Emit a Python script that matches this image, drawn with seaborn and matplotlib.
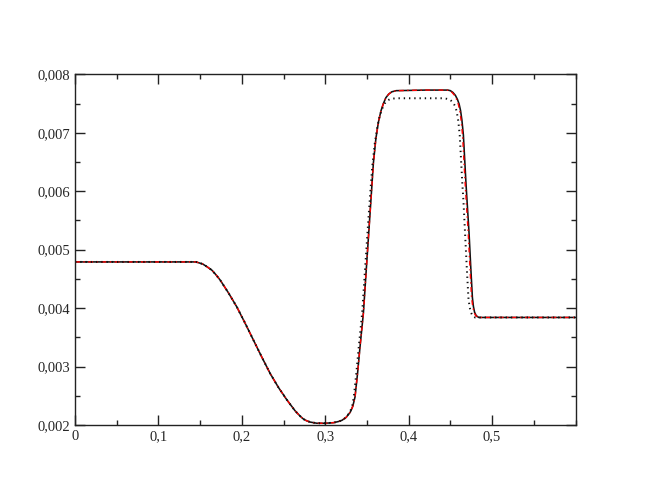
import numpy as np
import pandas as pd
import matplotlib
matplotlib.use("Agg")
import matplotlib.pyplot as plt
from matplotlib.ticker import MultipleLocator, FixedLocator
import seaborn as sns

# ---- data ----
x_solid = [0.0, 0.10, 0.14, 0.145, 0.153, 0.158, 0.164, 0.169, 0.174, 0.184,
           0.194, 0.204, 0.214, 0.224, 0.234, 0.244, 0.254, 0.264, 0.270, 0.274,
           0.278, 0.282, 0.29, 0.30, 0.31, 0.316, 0.32, 0.325, 0.330, 0.333,
           0.3357, 0.3387, 0.3417, 0.3457, 0.3497, 0.3537, 0.3577, 0.3607, 0.3637,
           0.3667, 0.3697, 0.3727, 0.376, 0.3797, 0.385, 0.42, 0.447, 0.450,
           0.453, 0.456, 0.4585, 0.4605, 0.4622, 0.4638, 0.4656, 0.4688, 0.4724,
           0.4744, 0.4764, 0.4776, 0.4790, 0.4810, 0.4840, 0.6]
y_solid = [0.00479, 0.00479, 0.00479, 0.00479, 0.004755, 0.00471, 0.00465, 0.00457,
           0.00448, 0.00426, 0.00402, 0.00374, 0.00345, 0.00316, 0.00288, 0.00264,
           0.00243, 0.00224, 0.00215, 0.00210, 0.00207, 0.00205, 0.00203, 0.00203,
           0.00204, 0.00206, 0.00208, 0.00213, 0.00222, 0.00232, 0.00248, 0.00288,
           0.00334, 0.00391, 0.00477, 0.00562, 0.00648, 0.00690, 0.00718, 0.00737,
           0.00750, 0.00760, 0.00766, 0.00770, 0.00772, 0.00773, 0.00773, 0.00772,
           0.00769, 0.00764, 0.00757, 0.00749, 0.00738, 0.00722, 0.00696, 0.00611,
           0.00528, 0.00471, 0.00418, 0.00403, 0.00393, 0.00387, 0.00384, 0.00384]

x_red = [0.0, 0.10, 0.14, 0.145, 0.153, 0.158, 0.164, 0.169, 0.174, 0.184,
         0.194, 0.204, 0.214, 0.224, 0.234, 0.244, 0.254, 0.264, 0.270, 0.274,
         0.278, 0.282, 0.29, 0.30, 0.31, 0.316, 0.32, 0.325, 0.330, 0.333,
         0.3357, 0.3387, 0.3417, 0.3457, 0.3497, 0.3537, 0.3577, 0.3607, 0.3637,
         0.3667, 0.3697, 0.3727, 0.376, 0.3797, 0.385, 0.42, 0.446, 0.449,
         0.452, 0.455, 0.4575, 0.4595, 0.4612, 0.4628, 0.4646, 0.4678, 0.4714,
         0.4734, 0.4754, 0.4768, 0.4783, 0.4803, 0.4835, 0.6]
y_red = [0.00479, 0.00479, 0.00479, 0.00479, 0.004755, 0.00471, 0.00465, 0.00457,
         0.00448, 0.00426, 0.00402, 0.00374, 0.00345, 0.00316, 0.00288, 0.00264,
         0.00243, 0.00224, 0.00215, 0.00210, 0.00207, 0.00205, 0.00203, 0.00203,
         0.00204, 0.00206, 0.00208, 0.00213, 0.00222, 0.00232, 0.00248, 0.00288,
         0.00334, 0.00391, 0.00477, 0.00562, 0.00648, 0.00690, 0.00718, 0.00737,
         0.00750, 0.00760, 0.00766, 0.00770, 0.00772, 0.00773, 0.00773, 0.00772,
         0.00769, 0.00764, 0.00757, 0.00749, 0.00738, 0.00722, 0.00696, 0.00611,
         0.00528, 0.00471, 0.00418, 0.00403, 0.00393, 0.00387, 0.00384, 0.00384]

x_dot = [0.0, 0.10, 0.14, 0.145, 0.153, 0.158, 0.164, 0.169, 0.174, 0.184,
         0.194, 0.204, 0.214, 0.224, 0.234, 0.244, 0.254, 0.264, 0.270, 0.274,
         0.278, 0.282, 0.29, 0.30, 0.31, 0.316, 0.32, 0.325, 0.3295, 0.3323,
         0.3342, 0.3372, 0.3402, 0.3442, 0.3482, 0.3522, 0.3562, 0.3592, 0.3622,
         0.3652, 0.3682, 0.3712, 0.3745, 0.3782, 0.385, 0.44, 0.446, 0.450,
         0.453, 0.4555, 0.4575, 0.4595, 0.4612, 0.4644, 0.4656, 0.4676, 0.4696,
         0.4716, 0.4730, 0.4748, 0.4770, 0.4796, 0.6]
y_dot = [0.00479, 0.00479, 0.00479, 0.00479, 0.004755, 0.00471, 0.00465, 0.00457,
         0.00448, 0.00426, 0.00402, 0.00374, 0.00345, 0.00316, 0.00288, 0.00264,
         0.00243, 0.00224, 0.00215, 0.00210, 0.00207, 0.00205, 0.00203, 0.00203,
         0.00204, 0.00206, 0.00208, 0.00213, 0.00222, 0.00232, 0.00248, 0.00288,
         0.00334, 0.00391, 0.00477, 0.00562, 0.00640, 0.00680, 0.00708, 0.00728,
         0.00741, 0.00750, 0.00755, 0.00758, 0.00759, 0.00759, 0.00758, 0.00756,
         0.00752, 0.00746, 0.00737, 0.00720, 0.00696, 0.00611, 0.00585, 0.00528,
         0.00471, 0.00418, 0.00402, 0.00392, 0.00386, 0.00384, 0.00384]

x_ticks = [0.0, 0.1, 0.2, 0.3, 0.4, 0.5]
x_labels = ["0", "0,1", "0,2", "0,3", "0,4", "0,5"]
y_ticks = [0.002, 0.003, 0.004, 0.005, 0.006, 0.007, 0.008]
y_labels = ["0,002", "0,003", "0,004", "0,005", "0,006", "0,007", "0,008"]

# ---- plotting ----
sns.set_style("ticks")
plt.rcParams["font.family"] = "serif"
plt.rcParams["font.serif"] = ["Liberation Serif", "DejaVu Serif"]

fig = plt.figure(figsize=(6.48, 5.01), dpi=100)
ax = fig.add_axes([75 / 648, 1 - 425 / 501, 500.5 / 648, (425 - 74.3) / 501])

df_s = pd.DataFrame({"x": x_solid, "y": y_solid})
df_r = pd.DataFrame({"x": x_red, "y": y_red})
df_d = pd.DataFrame({"x": x_dot, "y": y_dot})

sns.lineplot(data=df_s, x="x", y="y", ax=ax, color="#111111", lw=1.15,
             sort=False, estimator=None)
sns.lineplot(data=df_r, x="x", y="y", ax=ax, color="#ff0000", lw=1.0,
             sort=False, estimator=None)
ax.lines[-1].set_dashes((3.5, 2.5, 1, 2.5))
sns.lineplot(data=df_d, x="x", y="y", ax=ax, color="#111111", lw=1.4,
             sort=False, estimator=None)
ax.lines[-1].set_dashes((0.7, 2.0))

ax.set_xlim(0, 0.6)
ax.set_ylim(0.002, 0.008)
ax.xaxis.set_major_locator(FixedLocator(x_ticks))
ax.set_xticklabels(x_labels)
ax.xaxis.set_minor_locator(MultipleLocator(0.05))
ax.yaxis.set_major_locator(FixedLocator(y_ticks))
ax.set_yticklabels(y_labels)
ax.yaxis.set_minor_locator(MultipleLocator(0.0005))

ax.set_xlabel("")
ax.set_ylabel("")
for s in ax.spines.values():
    s.set_visible(True)
    s.set_linewidth(1.0)
    s.set_color("#222222")

ax.tick_params(which="both", direction="in", top=True, right=True,
               labelsize=10.5, color="#222222", width=1.0, pad=3.5)
ax.tick_params(which="major", length=7)
ax.tick_params(which="minor", length=3.5)

fig.savefig("out.png", dpi=100)
